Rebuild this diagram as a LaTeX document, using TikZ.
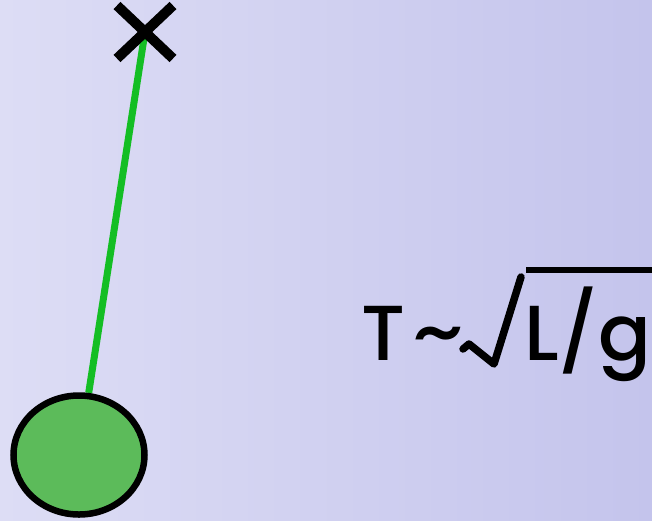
\documentclass[tikz,border=0pt]{standalone}
\usepackage{fontspec}
\setmainfont{Poppins}
\newfontfamily\formulafont{Poppins}[BoldFont={Poppins Medium}]
\usetikzlibrary{positioning,shapes.geometric,shapes.misc,backgrounds}
\definecolor{bgleft}{HTML}{DDDDF5}
\definecolor{bgright}{HTML}{C4C4EC}
\definecolor{stringgreen}{HTML}{14BE24}
\definecolor{bobgreen}{HTML}{5CBB5A}
\tikzset{
  pivotmark/.style = {cross out, draw=black, line width=10pt, minimum width=46pt,
                      minimum height=43pt, inner sep=0pt},
  bob/.style       = {ellipse, draw=black, line width=6.5pt, fill=bobgreen,
                      minimum width=131pt, minimum height=119pt, inner sep=0pt},
  string/.style    = {draw=stringgreen, line width=7pt},
  formula/.style   = {inner sep=0pt, font=\formulafont\bfseries\fontsize{78}{80}\selectfont},
  radical/.style   = {draw=black, line width=7.5pt, line cap=round, line join=round},
}

\begin{document}
\begin{tikzpicture}[x=1pt, y=-1pt]
  \useasboundingbox (0,0) rectangle (652,520);
  \node[pivotmark] (pivot) at (145,32) {};
  \node[bob] (bob) at (79,455) {};

  \node[formula, anchor=base west] (period) at (361,360) {T};
  \node[formula, anchor=base, xscale=1.2] (tilde) at (438,358) {\textasciitilde};
  \node[formula, anchor=base west] (ratio) at (524,360) {L/g};
  % root sign and its bar
  \draw[radical] (463,349) -- (469,344) -- (494,364) -- (521,277);
  \draw[black, line width=6pt] (526,270) -- (660,270);

  \begin{scope}[on background layer]
    \shade[left color=bgleft, right color=bgright] (0,0) rectangle (652,520);
    \draw[string] (pivot.center) -- (bob);
  \end{scope}
\end{tikzpicture}
\end{document}
